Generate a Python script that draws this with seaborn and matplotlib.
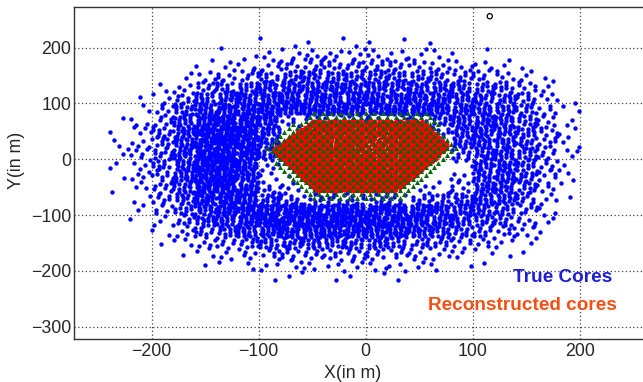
import numpy as np
import pandas as pd
import matplotlib
matplotlib.use("Agg")
import matplotlib.pyplot as plt
from matplotlib.path import Path
from matplotlib.ticker import MultipleLocator
import seaborn as sns

# ---------------- data ----------------
# True cores: approximate number of points per 20 m x 20 m cell
blue_x_centers = list(range(-230, 200, 20))          # 22 columns
blue_y_centers = list(range(210, -220, -20))         # 22 rows
blue_counts = [
    [0,0,0,0,0,0,0,1,1,1,1,1,1,1,0,1,0,0,0,0,0,0],
    [0,0,0,0,0,1,1,2,3,3,4,4,3,3,2,2,1,1,0,0,0,0],
    [0,0,0,0,2,2,3,5,7,8,8,8,8,7,6,5,3,3,2,1,0,0],
    [0,0,0,2,4,6,8,10,12,13,13,13,12,12,11,10,8,7,5,3,1,0],
    [0,0,2,4,8,11,14,16,18,18,18,18,17,17,16,15,13,12,10,6,3,0],
    [0,1,3,8,14,18,20,21,21,21,21,21,21,21,20,19,17,15,14,9,4,1],
    [0,2,5,13,20,24,24,24,24,24,24,24,24,24,24,22,20,18,16,11,5,2],
    [1,3,7,16,27,30,28,20,6,5,5,5,5,5,6,12,18,19,17,12,6,2],
    [1,4,9,19,30,32,28,18,0,0,0,0,0,0,0,8,16,19,18,13,7,2],
    [2,4,10,19,31,32,28,18,0,0,0,0,0,0,0,2,14,17,18,13,7,3],
    [2,5,10,19,31,32,28,14,0,0,0,0,0,0,0,0,9,16,18,13,7,3],
    [2,4,10,19,31,32,24,5,0,0,0,0,0,0,0,0,3,16,18,13,6,2],
    [1,4,9,17,30,31,22,3,2,0,0,0,0,0,0,1,3,17,18,12,6,2],
    [1,3,8,15,28,29,22,6,4,2,0,0,0,0,2,3,6,18,17,11,5,1],
    [0,2,7,13,25,27,24,14,8,7,7,7,7,7,8,10,14,18,16,10,4,1],
    [0,2,5,11,20,25,26,28,28,28,28,28,28,27,25,22,17,15,13,8,3,0],
    [0,1,3,8,15,20,25,30,30,30,30,30,29,27,24,20,15,12,10,6,2,0],
    [0,0,2,5,10,13,18,22,24,24,24,24,24,22,19,15,11,9,7,4,1,0],
    [0,0,1,3,5,7,10,13,14,14,14,14,14,12,10,8,6,5,3,2,0,0],
    [0,0,0,1,2,3,5,6,7,7,7,7,7,6,5,4,3,2,1,1,0,0],
    [0,0,0,0,1,1,2,3,3,3,3,3,3,3,2,2,1,1,0,0,0,0],
    [0,0,0,0,0,0,0,1,1,1,1,1,1,1,0,0,0,0,0,0,0,0],
]
blue_cell = 20

# Reconstructed cores: points per 10 m x 10 m cell, inside the array hexagon
red_x_centers = list(range(-85, 80, 10))             # 17 columns
red_y_centers = list(range(65, -60, -10))            # 13 rows
red_counts = [
    [24]*17,
    [24,24,24,24,18,18,16,18,18,16,16,18,20,24,24,24,24],
    [24,24,24,24,18,13,13,16,13,12,13,16,18,24,24,24,24],
    [24,24,24,20,16,12,13,16,13,10,10,13,16,20,24,24,24],
    [24,24,24,20,16,13,16,16,12,10,10,12,16,20,24,24,24],
    [24,24,24,20,18,16,16,13,12,10,12,13,16,20,24,24,24],
    [24,24,24,24,18,16,13,13,13,12,12,13,16,20,24,24,24],
    [24,24,24,24,20,18,16,16,16,16,13,14,18,24,24,24,24],
    [24,24,24,24,24,20,18,18,16,16,16,16,18,24,24,24,24],
    [24,24,24,24,24,24,20,18,16,14,16,18,20,24,24,24,24],
    [24,24,24,24,24,24,24,20,18,18,18,20,24,24,24,24,24],
    [24]*17,
    [24]*17,
]
red_cell = 10
red_hex_x = [-88, -50, 53, 79, 29, -46]
red_hex_y = [16, 69, 69, 22, -58, -58]

# Detector array (green triangles): 8 m hexagonal lattice and its outline
det_spacing = 8.0
det_hex_x = [-97, -55, 58, 88, 33, -50]
det_hex_y = [16, 84, 84, 22, -70, -70]

# single open marker
extra_x = [116]
extra_y = [256]

# ---------------- build point tables ----------------
A1, A2 = 0.7548776662466927, 0.5698402909980532


def fill_cells(xc, yc, counts, cell):
    xs, ys = [], []
    for j, yv in enumerate(yc):
        for i, xv in enumerate(xc):
            n = counts[j][i]
            s1 = (i * 0.6180339887 + j * 0.4142135623) % 1.0
            s2 = (i * 0.3247179572 + j * 0.7320508075) % 1.0
            for k in range(n):
                u = (s1 + (k + 1) * A1) % 1.0
                v = (s2 + (k + 1) * A2) % 1.0
                xs.append(xv - cell / 2 + cell * u)
                ys.append(yv - cell / 2 + cell * v)
    return np.array(xs), np.array(ys)


bx, by = fill_cells(blue_x_centers, blue_y_centers, blue_counts, blue_cell)
blue_df = pd.DataFrame({"x": bx, "y": by})

rx, ry = fill_cells(red_x_centers, red_y_centers, red_counts, red_cell)
red_path = Path(np.column_stack([red_hex_x, red_hex_y]))
inside = red_path.contains_points(np.column_stack([rx, ry]), radius=0.5)
red_df = pd.DataFrame({"x": rx[inside], "y": ry[inside]})

gx, gy = [], []
row_step = det_spacing * np.sqrt(3) / 2
for r in range(-12, 14):
    yv = r * row_step
    off = (det_spacing / 2) * (r % 2)
    for xv in np.arange(-120 + off, 120, det_spacing):
        gx.append(xv)
        gy.append(yv)
gx, gy = np.array(gx), np.array(gy)
det_path = Path(np.column_stack([det_hex_x, det_hex_y]))
ins = det_path.contains_points(np.column_stack([gx, gy]), radius=0.5)
green_df = pd.DataFrame({"x": gx[ins], "y": gy[ins]})

extra_df = pd.DataFrame({"x": extra_x, "y": extra_y})

# ---------------- figure ----------------
sns.set_style("white")
plt.rcParams["font.family"] = ["Liberation Sans", "DejaVu Sans"]

fig = plt.figure(figsize=(6.43, 3.82), dpi=100)
ax = fig.add_axes([74 / 643, 43 / 382, 1 - 74 / 643, (339 - 7.3) / 382])

sns.scatterplot(data=blue_df, x="x", y="y", ax=ax, color="#0000ff",
                s=10, linewidth=0, legend=False, zorder=3)
sns.scatterplot(data=red_df, x="x", y="y", ax=ax, color="#ff0000",
                s=7, linewidth=0, legend=False, zorder=4)
sns.scatterplot(data=green_df, x="x", y="y", ax=ax, color="#0a640a",
                marker="^", s=13, linewidth=0, legend=False, zorder=5)
sns.scatterplot(data=extra_df, x="x", y="y", ax=ax, marker="o",
                facecolor="none", edgecolor="black", s=14, linewidth=0.9,
                legend=False, zorder=5)

ax.set_xlim(-272.6, 259.2)
ax.set_ylim(-322, 272)

ax.xaxis.set_major_locator(MultipleLocator(100))
ax.xaxis.set_minor_locator(MultipleLocator(20))
ax.yaxis.set_major_locator(MultipleLocator(100))
ax.yaxis.set_minor_locator(MultipleLocator(20))
ax.tick_params(axis="x", which="major", direction="in", length=7.2, width=0.8,
               labelsize=12.8, pad=3, color="0.2")
ax.tick_params(axis="x", which="minor", direction="in", length=3.6, width=0.8, color="0.2")
ax.tick_params(axis="y", which="major", direction="in", length=12, width=0.8,
               labelsize=12.8, pad=2, color="0.2")
ax.tick_params(axis="y", which="minor", direction="in", length=6, width=0.8, color="0.2")
ax.tick_params(top=False, right=False)

ax.set_axisbelow(True)
ax.grid(True, which="major", linestyle=(0, (1, 2)), color="0.25", linewidth=0.9)

for side in ["left", "bottom", "top"]:
    ax.spines[side].set_visible(True)
    ax.spines[side].set_color("0.2")
    ax.spines[side].set_linewidth(1.0)
ax.spines["right"].set_visible(False)

ax.set_xlabel("X(in m)", fontsize=12.8)
ax.set_ylabel("Y(in m)", fontsize=12.8)
ax.xaxis.set_label_coords(0.489, -0.078)
ax.yaxis.set_label_coords(-0.086, 0.539)

ax.text(0.8585, 0.172, "True Cores", transform=ax.transAxes, color="#1e1ed2",
        fontsize=13.7, fontweight="bold", ha="center", va="baseline")
ax.text(0.788, 0.087, "Reconstructed cores", transform=ax.transAxes,
        color="#f55014", fontsize=13.7, fontweight="bold", ha="center", va="baseline")

fig.savefig("out.png", dpi=100)
